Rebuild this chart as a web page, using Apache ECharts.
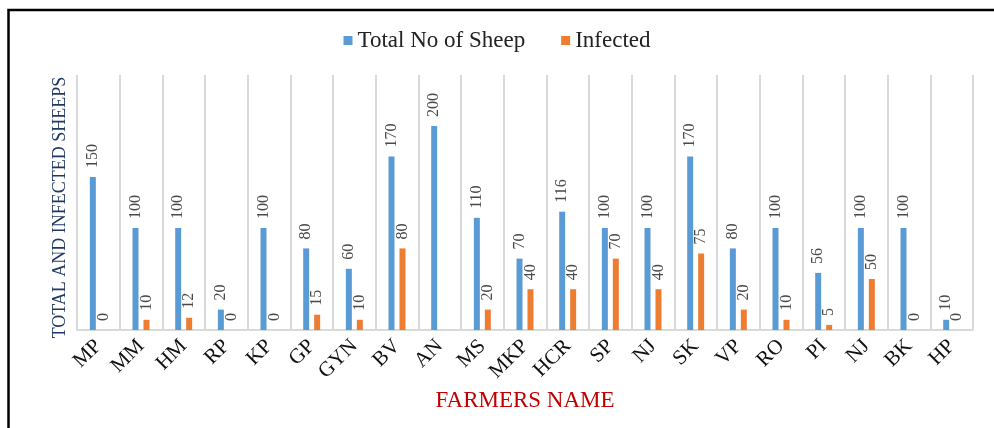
<!DOCTYPE html>
<html>
<head>
<meta charset="utf-8">
<script src="https://cdn.jsdelivr.net/npm/echarts@6/dist/echarts.min.js"></script>
<style>
  html, body { margin: 0; padding: 0; background: #fff; }
  #chart { width: 994px; height: 428px; }
</style>
</head>
<body>
<div id="chart"></div>
<script>
// farmer names as printed under the bars
var farmers = ['MP', 'MM', 'HM', 'RP', 'KP', 'GP', 'GYN', 'BV', 'AN', 'MS', 'MKP',
  'HCR', 'SP', 'NJ', 'SK', 'VP', 'RO', 'PI', 'NJ', 'BK', 'HP']
var totalSheep = [150, 100, 100, 20, 100, 80, 60, 170, 200, 110, 70,
  116, 100, 100, 170, 80, 100, 56, 100, 100, 10]
// AN has no infected value in the source
var infected = [0, 10, 12, 0, 0, 15, 10, 80, null, 20, 40,
  40, 70, 40, 75, 20, 10, 5, 50, 0, 0]

var serif = 'Liberation Serif, Times New Roman, serif'

var barLabel = {
  show: true,
  position: 'top',
  rotate: 90,
  align: 'left',
  verticalAlign: 'middle',
  distance: 9,
  color: '#4a4a4a',
  fontFamily: serif,
  fontSize: 16
}

var chart = echarts.init(document.getElementById('chart'))
chart.setOption({
  animation: false,
  graphic: [
    {
      type: 'rect',
      shape: { x: 8.5, y: 10, width: 1000, height: 500 },
      style: { fill: 'none', stroke: '#000', lineWidth: 2.5 }
    }
  ],
  legend: {
    top: 24,
    left: 'center',
    itemWidth: 9,
    itemHeight: 9,
    itemGap: 36,
    icon: 'rect',
    textStyle: { fontFamily: serif, fontSize: 23, color: '#222' },
    data: ['Total No of Sheep', 'Infected']
  },
  grid: { left: 77, right: 21, top: 75, bottom: 98 },
  xAxis: {
    type: 'category',
    data: farmers,
    name: 'FARMERS NAME',
    nameLocation: 'middle',
    nameGap: 58,
    nameTextStyle: { color: '#c00000', fontFamily: serif, fontSize: 23 },
    axisLine: { lineStyle: { color: '#d9d9d9', width: 2 } },
    axisTick: { show: false },
    axisLabel: {
      interval: 0,
      rotate: 45,
      margin: 13,
      color: '#111',
      fontFamily: serif,
      fontSize: 21
    },
    splitLine: { show: true, interval: 0, lineStyle: { color: '#d9d9d9', width: 2 } }
  },
  yAxis: {
    type: 'value',
    min: 0,
    max: 250,
    name: 'TOTAL AND INFECTED SHEEPS',
    nameLocation: 'middle',
    nameGap: 8,
    nameTextStyle: {
      color: '#1f3864',
      fontFamily: serif,
      fontSize: 18,
      padding: [0, 10, 0, 0]
    },
    axisLine: { show: false },
    axisTick: { show: false },
    axisLabel: { show: false },
    splitLine: { show: false }
  },
  series: [
    {
      name: 'Total No of Sheep',
      type: 'bar',
      barWidth: 6,
      barGap: '83%',
      itemStyle: { color: '#5b9bd5' },
      label: barLabel,
      data: totalSheep
    },
    {
      name: 'Infected',
      type: 'bar',
      barWidth: 6,
      itemStyle: { color: '#ed7d31' },
      label: barLabel,
      data: infected
    }
  ]
})
</script>
</body>
</html>
